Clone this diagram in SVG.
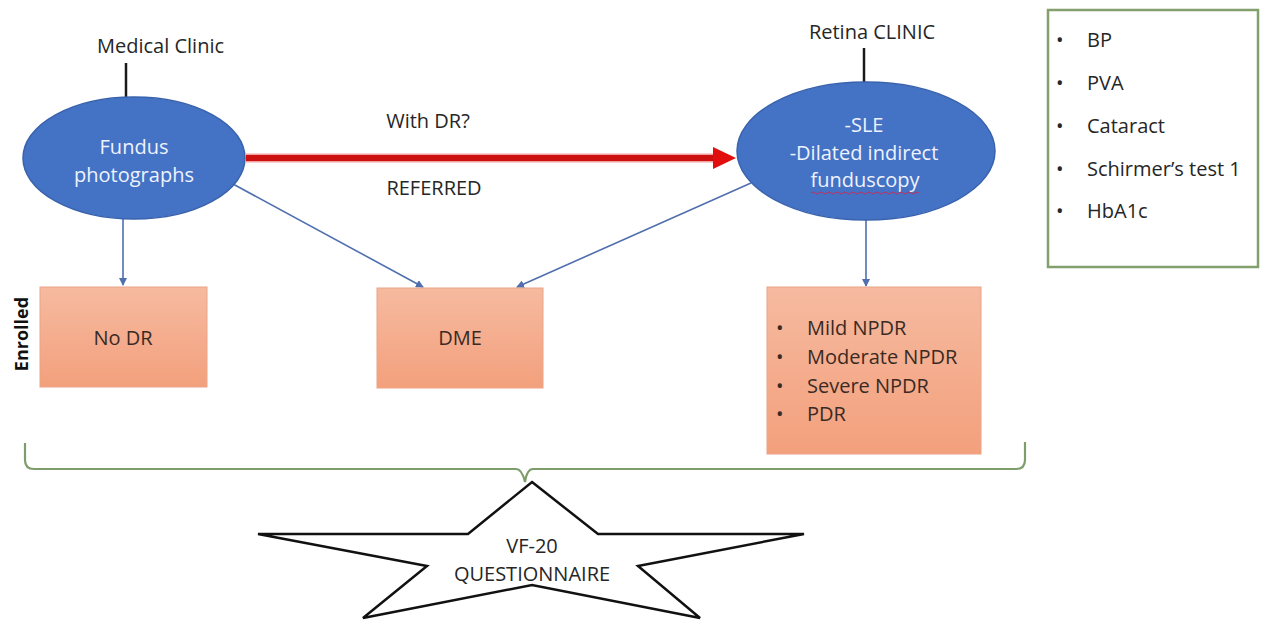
<svg xmlns="http://www.w3.org/2000/svg" width="1263" height="621" viewBox="0 0 1263 621">
<style>
text{font-family:"Open Sans","Liberation Sans",sans-serif;fill:#262626;font-size:20px}
.c{text-anchor:middle}
.w{fill:#eef3ff}
.el{fill:#4472c4;stroke:#3a63ad;stroke-width:1.5}
.bx{fill:url(#sal);stroke:#eaa486;stroke-width:1}
.bt{fill:#3a2a24}
.blue{stroke:#4f6fae;stroke-width:1.6;fill:none;marker-end:url(#ah)}
</style>
<defs>
<linearGradient id="sal" x1="0" y1="0" x2="0" y2="1">
<stop offset="0" stop-color="#f6baa0"/>
<stop offset="1" stop-color="#f3a07c"/>
</linearGradient>
<marker id="ah" markerWidth="8" markerHeight="8" refX="7" refY="4" orient="auto" markerUnits="userSpaceOnUse">
<path d="M0,0 L8,4 L0,8 Z" fill="#4f6fae"/>
</marker>
</defs>

<g id="connectors">
<line x1="126" y1="63" x2="126" y2="97" stroke="#1a1a1a" stroke-width="2.5"/>
<line x1="864" y1="48" x2="864" y2="82" stroke="#1a1a1a" stroke-width="2.5"/>
<line x1="246" y1="158" x2="716" y2="158" stroke="#f2a0a0" stroke-width="9"/>
<line x1="246" y1="158" x2="716" y2="158" stroke="#cc1010" stroke-width="6"/>
<path d="M713,147 L736,158 L713,169 Z" fill="#e20e0e"/>
<line x1="123" y1="219" x2="123" y2="285" class="blue"/>
<line x1="233" y1="184" x2="423" y2="287" class="blue"/>
<line x1="751" y1="183" x2="517" y2="287" class="blue"/>
<line x1="866" y1="220" x2="866" y2="286" class="blue"/>
<path d="M25,443 L25,460 Q25,469 34,469 L516,469 Q522,469 525,482 Q527,469 533,469 L1016,469 Q1025,469 1025,460 L1025,442" fill="none" stroke="#7f9c6b" stroke-width="2.2"/>
</g>

<g id="medical-clinic">
<text x="97" y="53">Medical Clinic</text>
</g>
<g id="retina-clinic">
<text x="872" y="39" class="c">Retina CLINIC</text>
</g>

<g id="fundus">
<ellipse cx="134" cy="158" rx="111" ry="61" class="el"/>
<text x="134" y="154" class="c w">Fundus</text>
<text x="134" y="182" class="c w">photographs</text>
</g>

<g id="retina-exam">
<ellipse cx="866" cy="151" rx="129" ry="69" class="el"/>
<text x="864" y="132" class="c w">-SLE</text>
<text x="864" y="160" class="c w">-Dilated indirect</text>
<text x="865" y="187" class="c w">funduscopy</text>
<path d="M811,193 q2,-2 4,0 t4,0 t4,0 t4,0 t4,0 t4,0 t4,0 t4,0 t4,0 t4,0 t4,0 t4,0 t4,0 t4,0 t4,0 t4,0 t4,0 t4,0 t4,0 t4,0 t4,0 t4,0 t4,0 t4,0 t4,0 t4,0 t4,0" fill="none" stroke="#c0305a" stroke-width="1"/>
</g>

<g id="with-dr">
<text x="428" y="128" class="c">With DR?</text>
</g>
<g id="referred">
<text x="434" y="195" class="c">REFERRED</text>
</g>

<g id="no-dr">
<rect x="40" y="287" width="167" height="100" class="bx"/>
<text x="123" y="345" class="c bt">No DR</text>
</g>
<g id="enrolled">
<text transform="translate(28,334) rotate(-90)" class="c" style="font-weight:bold;font-size:18px;fill:#111">Enrolled</text>
</g>

<g id="dme">
<rect x="377" y="288" width="166" height="100" class="bx"/>
<text x="460" y="345" class="c bt">DME</text>
</g>

<g id="dr-grades">
<rect x="767" y="287" width="214" height="167" class="bx"/>
<g class="bt">
<text x="776" y="335" class="bt">•</text><text x="807" y="335" class="bt">Mild NPDR</text>
<text x="776" y="364" class="bt">•</text><text x="807" y="364" class="bt">Moderate NPDR</text>
<text x="776" y="393" class="bt">•</text><text x="807" y="393" class="bt">Severe NPDR</text>
<text x="776" y="421" class="bt">•</text><text x="807" y="421" class="bt">PDR</text>
</g>
</g>

<g id="assessments">
<rect x="1048" y="10" width="210" height="257" fill="#fff" stroke="#82a06c" stroke-width="2.5"/>
<text x="1056" y="47">•</text><text x="1087" y="47">BP</text>
<text x="1056" y="90">•</text><text x="1087" y="90">PVA</text>
<text x="1056" y="133">•</text><text x="1087" y="133">Cataract</text>
<text x="1056" y="176">•</text><text x="1087" y="176">Schirmer’s test 1</text>
<text x="1056" y="218">•</text><text x="1087" y="218">HbA1c</text>
</g>

<g id="vf20">
<polygon points="532,482 598,534 804,534 638,566 700,618 532,585 363,618 427,566 258,534 468,534" fill="#fff" stroke="#111" stroke-width="2.5" stroke-linejoin="miter"/>
<text x="532" y="553" class="c">VF-20</text>
<text x="532" y="581" class="c">QUESTIONNAIRE</text>
</g>
</svg>
